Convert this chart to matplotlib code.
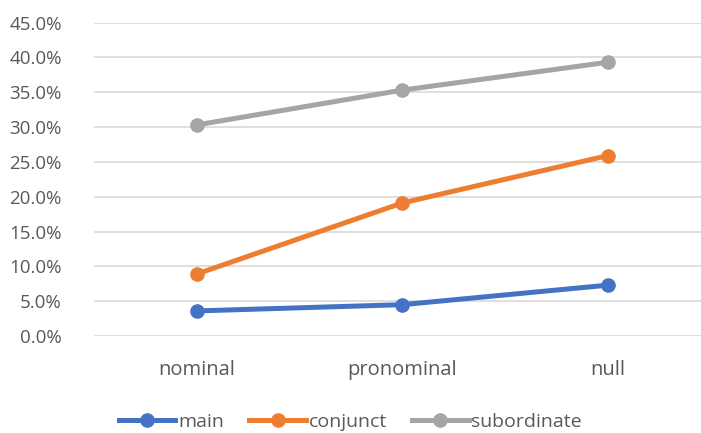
import matplotlib.pyplot as plt
from matplotlib.ticker import PercentFormatter

# Values (percent)
categories = ['nominal', 'pronominal', 'null']
main = [3.6, 4.5, 7.3]
conjunct = [8.9, 19.1, 25.9]
subordinate = [30.3, 35.3, 39.3]
y_ticks = [0, 5, 10, 15, 20, 25, 30, 35, 40, 45]

plt.rcParams['font.family'] = ['Open Sans', 'DejaVu Sans']

fig = plt.figure(figsize=(7.01, 4.33), dpi=100)
ax = fig.add_axes([0.134, 0.224, 0.880, 0.724])

x = range(len(categories))
ax.plot(x, main, color='#4472C4', lw=3.6, marker='o', ms=9.5, label='main')
ax.plot(x, conjunct, color='#ED7D31', lw=3.6, marker='o', ms=9.5, label='conjunct')
ax.plot(x, subordinate, color='#A5A5A5', lw=3.6, marker='o', ms=9.5, label='subordinate')

ax.set_xlim(-0.5, 2.5)
ax.set_ylim(0, 45)
ax.set_yticks(y_ticks)
ax.yaxis.set_major_formatter(PercentFormatter(decimals=1))
ax.set_xticks(list(x))
ax.set_xticklabels(categories)

ax.grid(axis='y', color='#D9D9D9', lw=1.2)
ax.set_axisbelow(True)
for s in ax.spines.values():
    s.set_visible(False)
ax.tick_params(length=0, labelcolor='#595959')
ax.tick_params(axis='y', pad=23, labelsize=13.5)
ax.tick_params(axis='x', pad=17, labelsize=14.5)

fig.legend(loc='center', bbox_to_anchor=(0.5, 1 - 422 / 433), ncol=3, frameon=False,
           fontsize=14, labelcolor='#595959', handlelength=2.9, handletextpad=0.15,
           columnspacing=1.3)

fig.savefig('out.png', dpi=100)
